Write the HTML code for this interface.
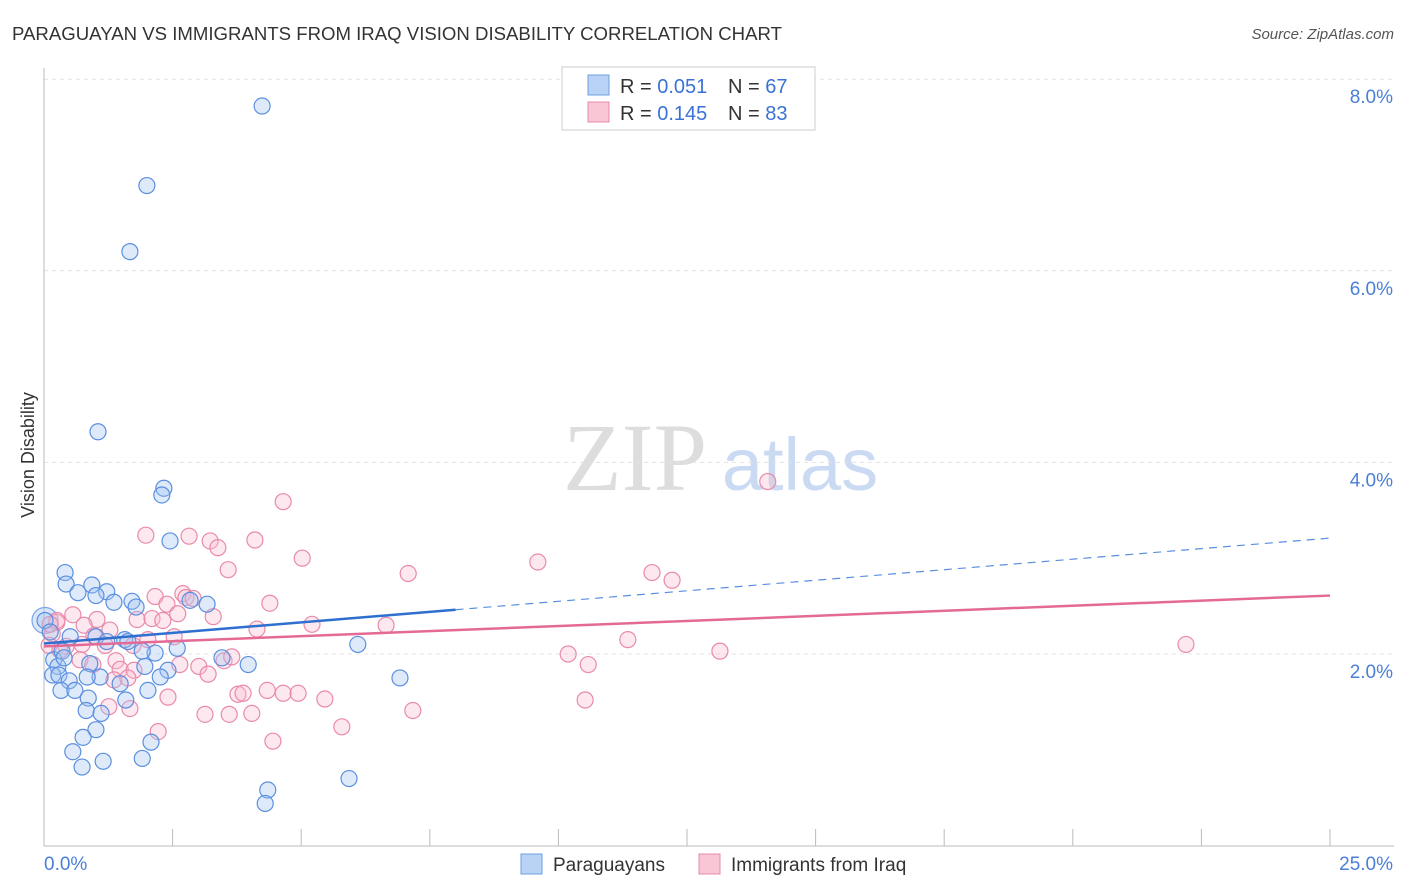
<!DOCTYPE html>
<html><head><meta charset="utf-8"><style>
body{margin:0;background:#fff;font-family:"Liberation Sans",sans-serif;}
#wrap{position:relative;width:1406px;height:892px;overflow:hidden;}
</style></head><body>
<div id="wrap">
<svg id="svg" width="1406" height="892" xmlns="http://www.w3.org/2000/svg" font-family="Liberation Sans, sans-serif">
<text x="12" y="40" font-size="18" fill="#333" textLength="770" lengthAdjust="spacingAndGlyphs">PARAGUAYAN VS IMMIGRANTS FROM IRAQ VISION DISABILITY CORRELATION CHART</text>
<text x="1394" y="39" font-size="15" fill="#555" font-style="italic" text-anchor="end">Source: ZipAtlas.com</text>
<text x="34" y="455" font-size="18" fill="#333" transform="rotate(-90 34 455)" text-anchor="middle">Vision Disability</text>
<g>
<text x="635" y="490" font-size="96" font-family="Liberation Serif, serif" fill="#ddd" text-anchor="middle">ZIP</text>
<text x="800" y="490" font-size="74" fill="#c9daf2" text-anchor="middle">atlas</text>
</g>
<g id="grid"></g>
<g id="axes"></g>
<g id="marks"></g>
<g>
<rect x="562" y="67" width="253" height="63" fill="#fff" stroke="#ccc"/>
<rect x="588" y="75" width="21" height="20" fill="#b8d3f5" stroke="#6e9ee0"/>
<rect x="588" y="102" width="21" height="20" fill="#f9c6d6" stroke="#e58aa8"/>
<text x="620" y="93" font-size="20" fill="#333">R = <tspan fill="#3a72d6">0.051</tspan></text>
<text x="728" y="93" font-size="20" fill="#333">N = <tspan fill="#3a72d6">67</tspan></text>
<text x="620" y="120" font-size="20" fill="#333">R = <tspan fill="#3a72d6">0.145</tspan></text>
<text x="728" y="120" font-size="20" fill="#333">N = <tspan fill="#3a72d6">83</tspan></text>
</g>
<g>
<rect x="521" y="854" width="21" height="20" fill="#b8d3f5" stroke="#6e9ee0"/>
<text x="553" y="871" font-size="19" fill="#333">Paraguayans</text>
<rect x="699" y="854" width="21" height="20" fill="#f9c6d6" stroke="#e58aa8"/>
<text x="731" y="871" font-size="19" fill="#333">Immigrants from Iraq</text>
</g>
</svg>
</div>
<script>
const yTicks=[2,4,6,8];
const yTickLabels=["2.0%","4.0%","6.0%","8.0%"];
const xTicks=[0,2.5,5,7.5,10,12.5,15,17.5,20,22.5,25];
const blueX=[4.24,2.0,1.67,1.05,2.33,2.29,2.45,0.41,0.43,0.93,0.66,1.22,1.01,1.71,1.79,1.36,3.17,2.84,0.02,0.12,0.51,1.01,1.57,1.63,1.22,2.16,2.59,1.91,0.19,0.27,0.35,0.39,0.89,3.46,3.97,1.96,2.41,0.17,0.29,2.26,1.09,0.84,1.48,0.49,0.33,0.6,2.02,0.86,1.59,0.82,1.11,1.01,0.76,2.08,0.56,1.91,1.15,0.74,6.1,6.92,4.35,4.3,5.93];
const blueY=[7.72,6.89,6.2,4.32,3.73,3.66,3.18,2.85,2.73,2.72,2.64,2.65,2.61,2.55,2.49,2.54,2.52,2.56,2.35,2.23,2.18,2.18,2.15,2.13,2.13,2.01,2.06,2.03,1.94,1.87,2.03,1.96,1.9,1.96,1.89,1.87,1.83,1.78,1.78,1.76,1.76,1.76,1.69,1.72,1.62,1.62,1.62,1.54,1.52,1.41,1.38,1.21,1.13,1.08,0.98,0.91,0.88,0.82,2.1,1.75,0.58,0.44,0.7];
const pinkX=[4.65,1.98,2.82,3.23,3.38,4.1,5.02,3.58,7.08,9.6,11.82,12.21,14.07,2.16,2.7,2.76,2.39,4.39,2.9,0.56,1.03,1.81,2.1,2.6,2.31,3.29,5.21,6.65,0.25,0.78,1.28,0.16,0.97,2.02,2.53,0.1,0.43,1.19,1.73,0.74,0.31,11.35,10.19,13.14,22.2,4.14,0.7,1.4,3.01,3.5,3.65,1.48,1.75,0.95,3.19,10.58,1.36,1.63,2.64,3.77,3.87,4.34,4.65,4.94,5.46,10.52,7.17,2.41,1.26,1.67,3.13,3.6,4.04,5.79,2.22,4.45,0.25,0.12];
const pinkY=[3.59,3.24,3.23,3.18,3.11,3.19,3.0,2.88,2.84,2.96,2.85,2.77,3.8,2.6,2.63,2.59,2.52,2.53,2.58,2.41,2.36,2.36,2.37,2.42,2.35,2.39,2.31,2.3,2.33,2.3,2.25,2.21,2.19,2.15,2.18,2.09,2.08,2.09,2.09,2.1,2.04,2.15,2.0,2.03,2.1,2.26,1.94,1.93,1.87,1.93,1.97,1.84,1.83,1.89,1.79,1.89,1.73,1.75,1.89,1.58,1.59,1.62,1.59,1.59,1.53,1.52,1.41,1.55,1.45,1.43,1.37,1.37,1.38,1.24,1.19,1.09,2.35,2.31];
const blueTrend=[2.11,3.21];
const blueSolidEnd=8.0;
const pinkTrend=[2.08,2.61];
const X0=44,X1=1330,Y0=845.6,PX=95.8;
function sx(v){return X0+(X1-X0)*v/25;}
function sy(v){return Y0-v*PX;}
const NS="http://www.w3.org/2000/svg";
function mk(tag,attrs,parent){const e=document.createElementNS(NS,tag);for(const k in attrs)e.setAttribute(k,attrs[k]);document.getElementById(parent).appendChild(e);return e;}
yTicks.forEach((t,i)=>{
 const g=mk('line',{x1:44,x2:1394,y1:sy(t),y2:sy(t),stroke:'#e2e2e2','stroke-dasharray':'4,4'},'grid');
 
 
 const l=mk('text',{x:1393,y:sy(t)+24,'font-size':19,fill:'#4a7fd8','text-anchor':'end'},'axes');
 l.textContent=yTickLabels[i];
 
 
});
const ax=mk('line',{x1:44,x2:44,y1:68,y2:846,stroke:'#bbb'},'axes');


const bx=mk('line',{x1:44,x2:1394,y1:846,y2:846,stroke:'#bbb'},'axes');


xTicks.forEach(t=>{const k=mk('line',{x1:sx(t),x2:sx(t),y1:829,y2:846,stroke:'#bbb'},'axes');
 
 });
const xl0=mk('text',{x:44,y:870,'font-size':19,fill:'#4a7fd8'},'axes');xl0.textContent='0.0%';


const xl1=mk('text',{x:1393,y:870,'font-size':19,fill:'#4a7fd8','text-anchor':'end'},'axes');xl1.textContent='25.0%';


const big=mk('circle',{cx:sx(0.02),cy:sy(2.35),r:13,fill:'rgba(150,190,240,0.35)',stroke:'#7aa6e6','stroke-width':1.2},'marks');


pinkX.forEach((v,i)=>{const c=mk('circle',{cx:sx(v),cy:sy(pinkY[i]),r:8,fill:'rgba(248,190,210,0.35)',stroke:'#e98aaa','stroke-width':1.2},'marks');
 
 });
blueX.forEach((v,i)=>{const c=mk('circle',{cx:sx(v),cy:sy(blueY[i]),r:8,fill:'rgba(160,195,240,0.35)',stroke:'#5a8fe0','stroke-width':1.2},'marks');
 
 });
function ty(tr,x){return tr[0]+(tr[1]-tr[0])*x/25;}
const pl=mk('line',{x1:sx(0),y1:sy(pinkTrend[0]),x2:sx(25),y2:sy(pinkTrend[1]),stroke:'#e46a95','stroke-width':2.5},'marks');


const bl=mk('line',{x1:sx(0),y1:sy(blueTrend[0]),x2:sx(blueSolidEnd),y2:sy(ty(blueTrend,blueSolidEnd)),stroke:'#2e6fd0','stroke-width':2.5},'marks');


const bd=mk('line',{x1:sx(blueSolidEnd),y1:sy(ty(blueTrend,blueSolidEnd)),x2:sx(25),y2:sy(blueTrend[1]),stroke:'#5a8fe0','stroke-width':1.2,'stroke-dasharray':'8,6'},'marks');


</script>
</body></html>
